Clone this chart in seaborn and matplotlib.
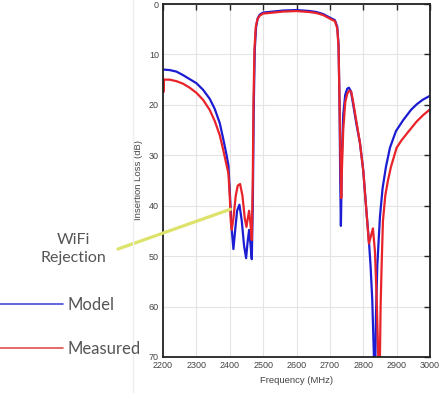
import numpy as np
import pandas as pd
import matplotlib
matplotlib.use("Agg")
import matplotlib.pyplot as plt
import seaborn as sns
from matplotlib.lines import Line2D

# Model (simulated) response
model_freq = [2200, 2220, 2240, 2260, 2280, 2300, 2320, 2340, 2355, 2370, 2380, 2390,
              2396, 2400, 2405, 2411, 2416, 2422, 2429, 2436, 2443, 2449, 2453, 2458,
              2462, 2466, 2469, 2472, 2475, 2479, 2484, 2490, 2500, 2530, 2560, 2600,
              2640, 2660, 2680, 2700, 2715, 2722, 2726, 2729, 2731, 2733, 2734, 2736,
              2740, 2746, 2752, 2757, 2763, 2770, 2780, 2790, 2800, 2810, 2817, 2822,
              2827, 2832, 2834, 2836, 2838, 2842, 2850, 2858, 2868, 2880, 2898, 2920,
              2943, 2960, 2978, 3000]
model_loss = [13.0, 13.1, 13.4, 14.1, 14.9, 15.7, 17.0, 18.8, 20.8, 23.6, 26.6, 29.8,
              32.0, 37.0, 44.0, 48.6, 45.0, 41.0, 39.8, 43.0, 48.0, 50.4, 47.5, 44.8,
              47.5, 50.6, 40.0, 20.0, 9.0, 4.5, 2.8, 2.1, 1.7, 1.5, 1.3, 1.2,
              1.4, 1.6, 2.0, 2.7, 3.2, 4.5, 8.0, 20.0, 35.0, 44.0, 40.0, 30.0,
              22.0, 18.0, 16.8, 16.6, 17.3, 20.0, 24.0, 27.5, 33.0, 41.5, 47.0, 52.0,
              58.7, 70.0, 75.0, 72.0, 62.0, 52.0, 42.2, 36.5, 32.3, 28.5, 25.2, 23.0,
              21.0, 19.9, 19.0, 18.2]

# Measured response
meas_freq = [2200, 2201, 2203, 2220, 2240, 2260, 2280, 2300, 2320, 2340, 2355, 2370,
             2380, 2390, 2396, 2400, 2403, 2406, 2411, 2418, 2424, 2431, 2438, 2445,
             2450, 2454, 2458, 2462, 2466, 2469, 2471, 2474, 2478, 2483, 2490, 2500,
             2530, 2560, 2600, 2640, 2660, 2680, 2700, 2715, 2722, 2726, 2729, 2732,
             2734, 2736, 2740, 2746, 2752, 2758, 2764, 2770, 2780, 2790, 2800, 2810,
             2817, 2823, 2829, 2835, 2840, 2845, 2847, 2849, 2852, 2855, 2859, 2866,
             2874, 2883, 2900, 2915, 2933, 2960, 2980, 3000]
meas_loss = [14.6, 17.5, 15.0, 15.0, 15.3, 15.8, 16.6, 17.6, 19.0, 21.0, 23.2, 26.0,
             28.8, 31.8, 33.6, 38.0, 43.0, 44.8, 42.5, 38.0, 36.0, 35.7, 38.0, 42.5,
             44.2, 42.5, 41.0, 43.5, 46.8, 35.0, 20.0, 9.0, 4.5, 3.0, 2.3, 1.9,
             1.7, 1.5, 1.4, 1.6, 1.8, 2.2, 2.9, 3.4, 4.8, 8.5, 20.0, 32.0,
             38.5, 33.0, 25.0, 19.5, 17.8, 17.2, 17.4, 19.5, 23.5, 27.5, 33.0, 41.5,
             47.5, 46.0, 44.5, 49.0, 58.0, 70.0, 75.0, 75.0, 60.0, 52.0, 43.0, 38.0,
             35.0, 32.3, 28.5, 27.0, 25.5, 23.3, 22.0, 20.9]

x_ticks = [2200, 2300, 2400, 2500, 2600, 2700, 2800, 2900, 3000]
y_ticks = [0, 10, 20, 30, 40, 50, 60, 70]

df = pd.concat([
    pd.DataFrame({"Frequency": model_freq, "Loss": model_loss, "Series": "Model"}),
    pd.DataFrame({"Frequency": meas_freq, "Loss": meas_loss, "Series": "Measured"}),
], ignore_index=True)

sns.set_style("white")
plt.rcParams["font.family"] = ["Liberation Sans", "DejaVu Sans"]

fig = plt.figure(figsize=(4.44, 3.93), dpi=100)
ax = fig.add_axes([163 / 444, 1 - 357 / 393, 267 / 444, 353 / 393])

sns.lineplot(data=df, x="Frequency", y="Loss", hue="Series", sort=False,
             estimator=None, palette={"Model": "#1c1cd2", "Measured": "#e8232a"},
             linewidth=1.6, ax=ax, legend=False)

ax.set_xlim(2200, 3000)
ax.set_ylim(70, 0)
ax.set_xticks(x_ticks)
ax.set_yticks(y_ticks)
ax.grid(True, color="#e4e4e4", linewidth=0.8)
ax.tick_params(direction="in", length=4, width=1, top=True, right=True,
               labelsize=6.5, labelcolor="#444444", pad=3)
for sp in ax.spines.values():
    sp.set_color("#222222")
    sp.set_linewidth(1.3)
ax.set_xlabel("Frequency (MHz)", fontsize=6.8, color="#444444", labelpad=4)
ax.set_ylabel("Insertion Loss (dB)", fontsize=6.8, color="#444444", labelpad=4)

# faint edge of the pasted plot image
fig.add_artist(Line2D([133 / 444, 133 / 444], [0, 1], color="#eeeeee", lw=1))

# legend on the left side
handles = [Line2D([], [], color="#4a4ad8", lw=1.2),
           Line2D([], [], color="#e05050", lw=1.2)]
fig.legend(handles, ["Model", "Measured"], loc="upper left",
           bbox_to_anchor=(0, 1 - 297 / 393), frameon=False,
           borderaxespad=0, borderpad=0,
           prop={"family": "Lato", "size": 12}, labelcolor="#555555",
           handlelength=3.75, handletextpad=0.3, labelspacing=1.65)

# WiFi rejection callout
fig.text(73 / 444, 1 - 249 / 393, "WiFi\nRejection", ha="center", va="center",
         family="Lato", fontsize=11.5, color="#555555", linespacing=1.45)
ax.annotate("", xy=(2402, 40.7), xycoords="data",
            xytext=(118 / 444, 1 - 249 / 393), textcoords="figure fraction",
            arrowprops=dict(arrowstyle="-", color="#dde36a", lw=2.3,
                            shrinkA=0, shrinkB=0), annotation_clip=False)

fig.savefig("out.png", dpi=100)
